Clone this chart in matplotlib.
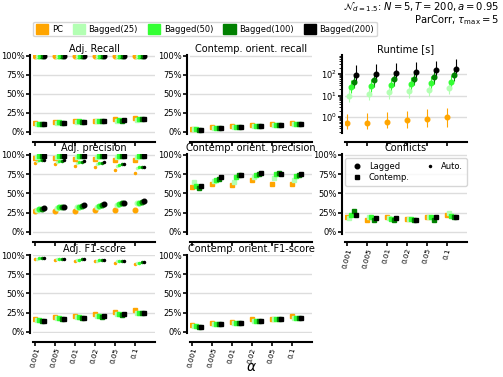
import numpy as np
import matplotlib
matplotlib.use('Agg')
import matplotlib.pyplot as plt
from matplotlib.patches import Patch
from matplotlib.lines import Line2D

# x axis: significance levels
alphas = ['0.001', '0.005', '0.01', '0.02', '0.05', '0.1']
methods = ['PC', 'Bagged(25)', 'Bagged(50)', 'Bagged(100)', 'Bagged(200)']
colors = ['orange', '#b3ffb3', '#33ff33', '#008000', 'black']

# Adj. Recall
recall_lag = [[1.0]*6, [1.0]*6, [1.0]*6, [1.0]*6, [1.0]*6]
recall_auto = [[1.0]*6, [1.0]*6, [1.0]*6, [1.0]*6, [1.0]*6]
recall_cont = [[0.12, 0.13, 0.14, 0.15, 0.17, 0.19],
               [0.11, 0.12, 0.13, 0.14, 0.15, 0.16],
               [0.11, 0.13, 0.14, 0.15, 0.16, 0.17],
               [0.10, 0.12, 0.13, 0.14, 0.15, 0.17],
               [0.10, 0.12, 0.13, 0.14, 0.16, 0.17]]

# Contemp. orient. recall
orecall_cont = [[0.045, 0.06, 0.075, 0.09, 0.105, 0.12],
                [0.035, 0.05, 0.065, 0.08, 0.09, 0.105],
                [0.035, 0.05, 0.066, 0.078, 0.09, 0.105],
                [0.03, 0.05, 0.066, 0.075, 0.088, 0.105],
                [0.03, 0.05, 0.066, 0.075, 0.088, 0.105]]

# Runtime [s] (mean, lower, upper)
runtime = [[0.5, 0.55, 0.6, 0.7, 0.8, 0.95],
           [10, 12, 14, 16, 19, 23],
           [26, 28, 30, 33, 38, 44],
           [44, 52, 58, 62, 72, 95],
           [90, 105, 115, 125, 150, 180]]
runtime_lo = [[0.27, 0.28, 0.3, 0.32, 0.33, 0.35],
              [5, 6, 7, 8, 10, 12],
              [13, 14, 15, 17, 19, 22],
              [22, 26, 29, 31, 36, 48],
              [45, 52, 58, 62, 75, 90]]
runtime_hi = [[1.4, 1.6, 1.8, 2.0, 2.4, 2.7],
              [26, 30, 34, 38, 44, 50],
              [55, 60, 65, 70, 80, 95],
              [100, 115, 125, 135, 160, 200],
              [260, 300, 330, 360, 420, 500]]

# Adj. precision
prec_lag = [[0.27, 0.27, 0.27, 0.28, 0.28, 0.28],
            [0.29, 0.31, 0.32, 0.33, 0.35, 0.37],
            [0.30, 0.32, 0.33, 0.34, 0.36, 0.38],
            [0.30, 0.32, 0.34, 0.35, 0.37, 0.39],
            [0.31, 0.33, 0.35, 0.36, 0.38, 0.40]]
prec_auto = [[0.90, 0.88, 0.86, 0.84, 0.81, 0.77],
             [0.92, 0.91, 0.90, 0.88, 0.86, 0.83],
             [0.93, 0.92, 0.91, 0.89, 0.87, 0.84],
             [0.93, 0.92, 0.91, 0.90, 0.88, 0.85],
             [0.94, 0.93, 0.92, 0.91, 0.88, 0.85]]
prec_cont = [[0.96, 0.96, 0.95, 0.95, 0.94, 0.93],
             [0.98, 0.98, 0.98, 0.98, 0.98, 0.98],
             [0.99, 0.99, 0.99, 0.99, 0.99, 0.99],
             [0.99, 0.99, 0.99, 0.99, 0.99, 0.99],
             [0.99, 0.99, 0.99, 0.99, 0.99, 0.99]]

# Contemp. orient. precision
oprec_cont = [[0.59, 0.62, 0.61, 0.67, 0.62, 0.62],
              [0.65, 0.66, 0.65, 0.71, 0.70, 0.68],
              [0.60, 0.68, 0.72, 0.74, 0.75, 0.73],
              [0.57, 0.69, 0.74, 0.75, 0.77, 0.74],
              [0.60, 0.71, 0.74, 0.76, 0.75, 0.75]]

# Conflicts
conflicts = [[0.20, 0.16, 0.19, 0.17, 0.20, 0.22],
             [0.18, 0.20, 0.18, 0.17, 0.20, 0.24],
             [0.22, 0.19, 0.17, 0.17, 0.19, 0.21],
             [0.27, 0.16, 0.16, 0.16, 0.15, 0.20],
             [0.22, 0.18, 0.18, 0.16, 0.19, 0.19]]

# Adj. F1-score
f1_auto = [[0.95, 0.94, 0.93, 0.92, 0.90, 0.88],
           [0.95, 0.95, 0.94, 0.93, 0.92, 0.90],
           [0.96, 0.95, 0.94, 0.94, 0.92, 0.90],
           [0.96, 0.95, 0.95, 0.94, 0.93, 0.91],
           [0.96, 0.95, 0.95, 0.94, 0.93, 0.91]]
f1_cont = [[0.17, 0.19, 0.21, 0.23, 0.26, 0.29],
           [0.15, 0.18, 0.19, 0.20, 0.23, 0.25],
           [0.15, 0.18, 0.19, 0.20, 0.23, 0.25],
           [0.14, 0.17, 0.18, 0.19, 0.22, 0.25],
           [0.14, 0.17, 0.18, 0.20, 0.23, 0.25]]

# Contemp. orient. F1-score
of1_cont = [[0.09, 0.12, 0.13, 0.16, 0.17, 0.21],
            [0.07, 0.10, 0.12, 0.14, 0.16, 0.18],
            [0.07, 0.10, 0.12, 0.14, 0.16, 0.18],
            [0.065, 0.10, 0.12, 0.14, 0.16, 0.18],
            [0.065, 0.105, 0.12, 0.14, 0.16, 0.18]]

W, H = 503, 377
fig = plt.figure(figsize=(W/100, H/100), dpi=100)
plt.rcParams['font.size'] = 6

cols = [(33, 155), (190, 312), (345, 467)]
rows = [(55.2, 133.5), (154.2, 233.5), (254.5, 333.2)]
x = np.arange(len(alphas))
step = 0.11


def make_ax(r, c, labels=False, log=False):
    l, rr = cols[c]
    t, b = rows[r]
    ax = fig.add_axes([l/W, 1 - b/H, (rr - l)/W, (b - t)/H])
    ax.set_xlim(-0.1, 6.0)
    if log:
        ax.set_yscale('log')
        ax.set_ylim(0.17, 760)
        ax.set_yticks([1, 10, 100])
    else:
        ax.set_ylim(-0.02, 1.01)
        ax.set_yticks([0, 0.25, 0.5, 0.75, 1.0])
        ax.set_yticklabels(['0%', '25%', '50%', '75%', '100%'])
    ax.grid(axis='y', color='#dddddd', lw=1)
    ax.set_axisbelow(True)
    for s in ['top', 'right']:
        ax.spines[s].set_visible(False)
    ax.spines['left'].set_position(('outward', 2))
    ax.spines['bottom'].set_position(('outward', 6))
    ax.spines['left'].set_linewidth(1.5)
    ax.spines['bottom'].set_linewidth(1.5)
    ax.tick_params(width=1.2, length=3, labelsize=6, pad=1)
    ax.set_xticks(x)
    if labels:
        ax.set_xticklabels(alphas, rotation=75, ha='center', fontsize=5.2)
    else:
        ax.set_xticklabels([])
    return ax


def plot_pts(ax, data, marker, ms):
    for m in range(len(methods)):
        ax.plot(x + m*step, data[m], ls='none', marker=marker, ms=ms,
                color=colors[m], mec=colors[m], zorder=3)


# row 1
ax = make_ax(0, 0)
ax.set_title('Adj. Recall', fontsize=7, pad=2)
plot_pts(ax, recall_lag, 'o', 3.3)
plot_pts(ax, recall_auto, '.', 3)
plot_pts(ax, recall_cont, 's', 3.2)

ax = make_ax(0, 1)
ax.set_title('Contemp. orient. recall', fontsize=7, pad=2)
plot_pts(ax, orecall_cont, 's', 3.2)

ax = make_ax(0, 2, log=True)
ax.set_title('Runtime [s]', fontsize=7, pad=2)
for m in range(len(methods)):
    val = np.array(runtime[m])
    err = [val - np.array(runtime_lo[m]), np.array(runtime_hi[m]) - val]
    ax.errorbar(x + m*step, val, yerr=err, fmt='o', ms=3.3, color=colors[m],
                elinewidth=0.8, capsize=0, zorder=3)

# row 2
ax = make_ax(1, 0)
ax.set_title('Adj. precision', fontsize=7, pad=2)
plot_pts(ax, prec_lag, 'o', 3.3)
plot_pts(ax, prec_auto, '.', 3)
plot_pts(ax, prec_cont, 's', 3.2)

ax = make_ax(1, 1)
ax.set_title('Contemp. orient. precision', fontsize=7, pad=2)
plot_pts(ax, oprec_cont, 's', 3.2)

ax = make_ax(1, 2, labels=True)
ax.set_title('Conflicts', fontsize=7, pad=2)
plot_pts(ax, conflicts, 's', 3.2)
handles = [Line2D([], [], ls='none', marker='o', color='black', ms=3.3),
           Line2D([], [], ls='none', marker='s', color='black', ms=3.2),
           Line2D([], [], ls='none', marker='.', color='black', ms=3)]
ax.legend(handles, ['Lagged', 'Contemp.', 'Auto.'], ncol=2, loc='upper center',
          fontsize=6, handletextpad=0.4, columnspacing=1.4,
          borderpad=0.4, labelspacing=0.3, bbox_to_anchor=(0.5, 1.0))

# row 3
ax = make_ax(2, 0, labels=True)
ax.set_title('Adj. F1-score', fontsize=7, pad=2)
plot_pts(ax, f1_auto, '.', 3)
plot_pts(ax, f1_cont, 's', 3.2)

ax = make_ax(2, 1, labels=True)
ax.set_title('Contemp. orient. F1-score', fontsize=7, pad=2)
plot_pts(ax, of1_cont, 's', 3.2)

fig.text(251/W, 1 - 367/H, r'$\alpha$', ha='center', va='center', fontsize=10)

# legend and header
patches = [Patch(color=c, label=m) for m, c in zip(methods, colors)]
fig.legend(handles=patches, loc='center', ncol=5, fontsize=6,
           bbox_to_anchor=(205/W, 1 - 29/H), handlelength=1.5,
           handleheight=1.4, handletextpad=0.4, columnspacing=1.2,
           borderpad=0.3)
fig.text(499/W, 1 - 0.5/H, r'$\mathcal{N}_{d=1.5}$: $N=5, T=200, a=0.95$',
         ha='right', va='top', fontsize=7.2)
fig.text(499/W, 1 - 13.5/H, r'ParCorr, $\tau_{\max}=5$',
         ha='right', va='top', fontsize=7.2)

plt.savefig('out.png', dpi=100)
